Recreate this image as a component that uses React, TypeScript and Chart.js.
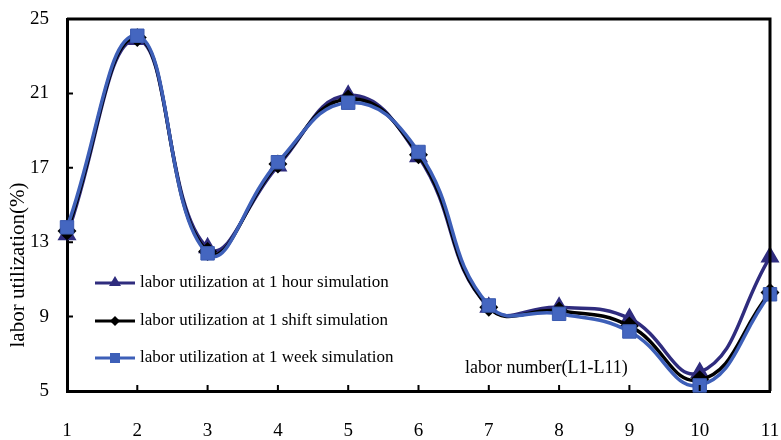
import React, { useEffect, useRef } from "react";
import { Chart, registerables } from "chart.js";

Chart.register(...registerables);

const categories = ["1", "2", "3", "4", "5", "6", "7", "8", "9", "10", "11"];
const hourSeries = [13.4, 23.9, 12.7, 17.1, 20.9, 17.6, 9.5, 9.5, 8.9, 6.0, 12.2];
const shiftSeries = [13.6, 24.0, 12.5, 17.2, 20.7, 17.7, 9.5, 9.3, 8.5, 5.6, 10.3];
const weekSeries = [13.8, 24.1, 12.4, 17.3, 20.5, 17.85, 9.6, 9.15, 8.2, 5.3, 10.2];
const yTicks = [5, 9, 13, 17, 21, 25];

const seriesNames = [
  "labor utilization at 1 hour simulation",
  "labor utilization at 1 shift simulation",
  "labor utilization at 1 week simulation",
];
const xTitle = "labor number(L1-L11)";
const yTitle = "labor utilization(%)";

const NAVY = "#2f2c7e";
const BLACK = "#000000";
const BLUE = "#3d5fb8";
const FONT = "'Liberation Serif', 'Times New Roman', serif";

const decorPlugin = {
  id: "decor",
  afterDatasetsDraw(chart: any) {
    const { ctx, chartArea } = chart;
    const { left, right, top, bottom } = chartArea;
    const xs = chart.scales.x;
    const ys = chart.scales.y;
    ctx.save();
    ctx.strokeStyle = "#000";
    ctx.lineWidth = 3;
    ctx.beginPath();
    ctx.moveTo(left, top);
    ctx.lineTo(right, top);
    ctx.lineTo(right, bottom);
    ctx.stroke();
    ctx.lineWidth = 2;
    ctx.beginPath();
    for (let i = 1; i < categories.length - 1; i++) {
      const px = xs.getPixelForValue(i);
      ctx.moveTo(px, bottom);
      ctx.lineTo(px, bottom - 6);
    }
    for (const t of yTicks) {
      if (t === yTicks[0] || t === yTicks[yTicks.length - 1]) continue;
      const py = ys.getPixelForValue(t);
      ctx.moveTo(left, py);
      ctx.lineTo(left + 6, py);
    }
    ctx.stroke();

    ctx.fillStyle = "#000";
    ctx.font = `18px ${FONT}`;
    ctx.textAlign = "left";
    ctx.textBaseline = "middle";
    ctx.fillText(xTitle, 465, 368);

    ctx.save();
    ctx.translate(18, 265);
    ctx.rotate(-Math.PI / 2);
    ctx.textAlign = "center";
    ctx.font = `21px ${FONT}`;
    ctx.fillText(yTitle, 0, 0);
    ctx.restore();

    const colors = [NAVY, BLACK, BLUE];
    const styles = ["triangle", "rectRot", "rect"];
    const rows = [283, 321, 358];
    for (let i = 0; i < 3; i++) {
      const y = rows[i];
      ctx.strokeStyle = colors[i];
      ctx.lineWidth = 3;
      ctx.beginPath();
      ctx.moveTo(95, y);
      ctx.lineTo(135, y);
      ctx.stroke();
      ctx.fillStyle = colors[i];
      ctx.beginPath();
      if (styles[i] === "triangle") {
        ctx.moveTo(115, y - 7);
        ctx.lineTo(121, y + 3);
        ctx.lineTo(109, y + 3);
        ctx.closePath();
      } else if (styles[i] === "rectRot") {
        ctx.moveTo(115, y - 5);
        ctx.lineTo(120, y);
        ctx.lineTo(115, y + 5);
        ctx.lineTo(110, y);
        ctx.closePath();
      } else {
        ctx.rect(110, y - 5, 10, 10);
      }
      ctx.fill();
      ctx.fillStyle = "#000";
      ctx.font = `17px ${FONT}`;
      ctx.textAlign = "left";
      ctx.textBaseline = "middle";
      ctx.fillText(seriesNames[i], 140, y);
    }
    ctx.restore();
  },
};

export default function App() {
  const ref = useRef<HTMLCanvasElement | null>(null);
  useEffect(() => {
    document.body.style.margin = "0";
    const canvas = ref.current;
    if (!canvas) return;
    const chart = new Chart(canvas, {
      type: "line",
      data: {
        labels: categories,
        datasets: [
          {
            label: seriesNames[0],
            data: hourSeries,
            borderColor: NAVY,
            backgroundColor: NAVY,
            pointStyle: "triangle",
            pointRadius: 7.5,
            borderWidth: 3.5,
            order: 2,
          },
          {
            label: seriesNames[1],
            data: shiftSeries,
            borderColor: BLACK,
            backgroundColor: BLACK,
            pointStyle: "rectRot",
            pointRadius: 7,
            borderWidth: 3.5,
            order: 1,
          },
          {
            label: seriesNames[2],
            data: weekSeries,
            borderColor: BLUE,
            backgroundColor: "#4466c0",
            pointStyle: "rect",
            pointRadius: 9.5,
            pointBorderColor: "#3a5ab0",
            pointBorderWidth: 1,
            borderWidth: 3.5,
            order: 0,
          },
        ],
      },
      options: {
        animation: false,
        responsive: false,
        maintainAspectRatio: false,
        layout: { padding: { top: 19, right: 10, left: 0, bottom: 0 } },
        elements: { line: { tension: 0.45 } },
        datasets: { line: { clip: false } as any },
        plugins: {
          legend: { display: false },
          tooltip: { enabled: false },
        },
        scales: {
          x: {
            type: "category",
            offset: false,
            grid: { drawOnChartArea: false, drawTicks: false },
            border: { display: true, color: "#000", width: 3 },
            ticks: {
              color: "#000",
              padding: 29,
              maxRotation: 0,
              autoSkip: false,
              font: { family: FONT, size: 19 },
            },
            afterFit: (s: any) => {
              s.height = 49;
              s.paddingRight = 0;
              s.paddingLeft = 0;
            },
          },
          y: {
            min: 5,
            max: 25,
            afterBuildTicks: (s: any) => {
              s.ticks = yTicks.map((v) => ({ value: v }));
            },
            grid: { drawOnChartArea: false, drawTicks: false },
            border: { display: true, color: "#000", width: 3 },
            ticks: {
              color: "#000",
              padding: 18,
              font: { family: FONT, size: 19 },
            },
            afterFit: (s: any) => {
              s.width = 67;
              s.paddingTop = 0;
              s.paddingBottom = 0;
            },
          },
        },
      },
      plugins: [decorPlugin],
    });
    return () => chart.destroy();
  }, []);
  return (
    <div style={{ width: 781, height: 440 }}>
      <canvas ref={ref} width={781} height={440} style={{ display: "block" }} />
    </div>
  );
}
